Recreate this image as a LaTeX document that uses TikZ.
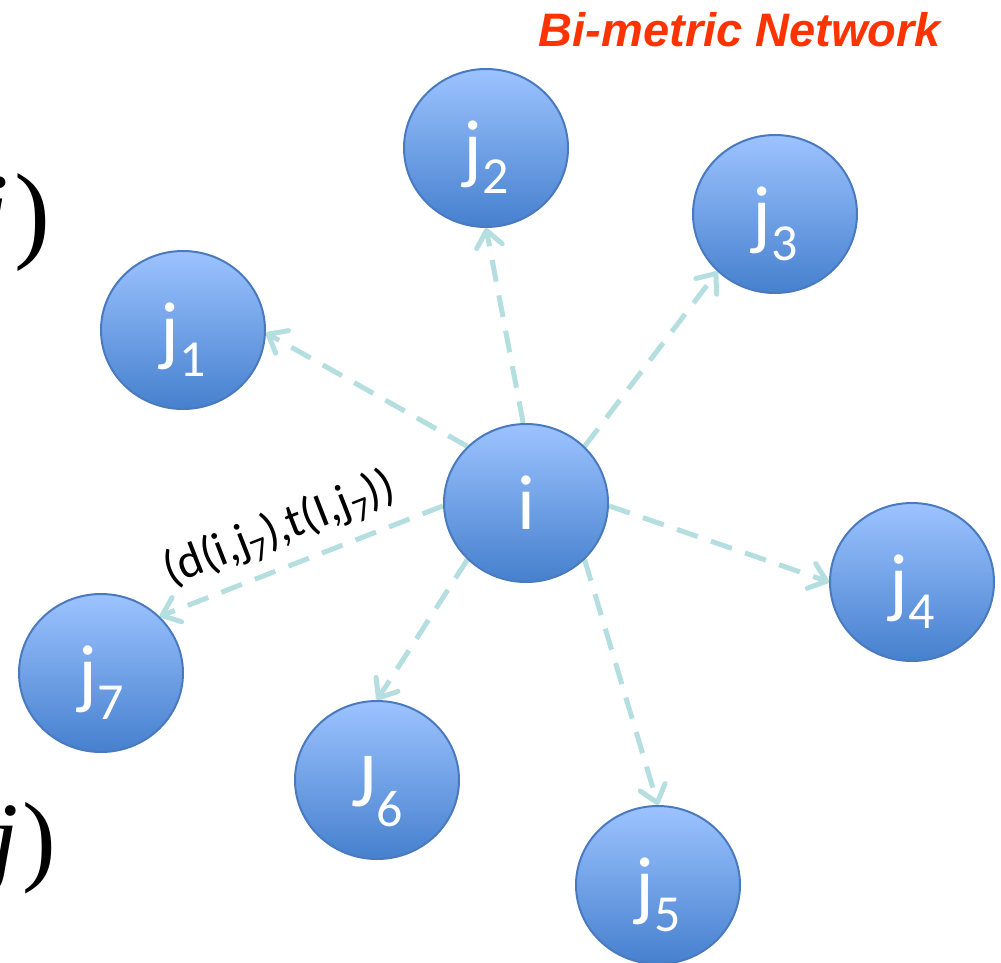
\documentclass[tikz,border=0pt]{standalone}
\usepackage{fontspec}
\newfontfamily\calib{Carlito}
\newfontfamily\arialf{Liberation Sans}
\newfontfamily\timesf{Liberation Serif}
\usetikzlibrary{shapes.geometric,arrows.meta}
\definecolor{nodetop}{RGB}{156,195,255}
\definecolor{nodebot}{RGB}{70,128,206}
\definecolor{nodeline}{RGB}{74,122,190}
\definecolor{edgec}{RGB}{181,222,224}
\definecolor{titlec}{RGB}{255,51,0}
\newcommand\nsub[1]{\raisebox{-20pt}{\fontsize{52}{52}\selectfont #1}}
\newcommand\esub[1]{\raisebox{-10pt}{\fontsize{34}{34}\selectfont #1}}
\pgfdeclarelayer{bg}
\pgfsetlayers{bg,main}
\begin{document}
\begin{tikzpicture}[x=1pt,y=-1pt,
  netnode/.style={ellipse, draw=nodeline, line width=2pt, top color=nodetop, bottom color=nodebot,
    minimum width=164pt, minimum height=158pt, inner sep=0pt, text=white,
    font=\calib\fontsize{78}{78}\selectfont, text height=52pt, text depth=0pt},
  link/.style={draw=edgec, line width=5pt, dash pattern=on 22pt off 14pt,
    -{Straight Barb[length=16pt,width=26pt,round]}},
  edgelabel/.style={sloped, inner sep=0pt, text=black, font=\calib\fontsize{48}{48}\selectfont},
  frag/.style={anchor=base east, inner sep=0pt},
]
\useasboundingbox (0,0) rectangle (1001,963);

\node[anchor=base, text=titlec, inner sep=0pt, font=\arialf\bfseries\itshape\fontsize{47}{47}\selectfont] (title) at (740,47) {Bi-metric Network};

\begin{scope}
\clip (0,0) rectangle (1001,963);
\node[frag, font=\timesf\fontsize{108}{108}\selectfont] (fa) at (51,248) {\textit{j}\kern6pt)};
\node[frag, font=\timesf\fontsize{101}{101}\selectfont] (fb) at (56,872) {\textit{j}\kern4pt)};
\end{scope}

\node[netnode] (i)  at (526,503) {i};
\node[netnode] (j1) at (183,330) {j\nsub{1}};
\node[netnode] (j2) at (486,148) {j\nsub{2}};
\node[netnode] (j3) at (775,214) {j\nsub{3}};
\node[netnode] (j4) at (912,582) {j\nsub{4}};
\node[netnode] (j5) at (658,885) {j\nsub{5}};
\node[netnode] (j6) at (377,780) {J\nsub{6}};
\node[netnode] (j7) at (101,673) {j\nsub{7}};

\begin{pgfonlayer}{bg}
\draw[link] (i.136) -- (j1.-2);
\draw[link] (i.92) -- (j2.south);
\draw[link] (i.44) -- (j3.225);
\draw[link] (i.-2) -- (j4.west);
\draw[link] (i.-44) -- (j5.north);
\draw[link] (i.224) -- (j6.north);
\draw[link] (i.182) -- node[edgelabel, pos=0.53, above=12pt] (lbl) {(d(i,j\esub{7}),t(I,j\esub{7}))} (j7.44);
\end{pgfonlayer}
\end{tikzpicture}
\end{document}
